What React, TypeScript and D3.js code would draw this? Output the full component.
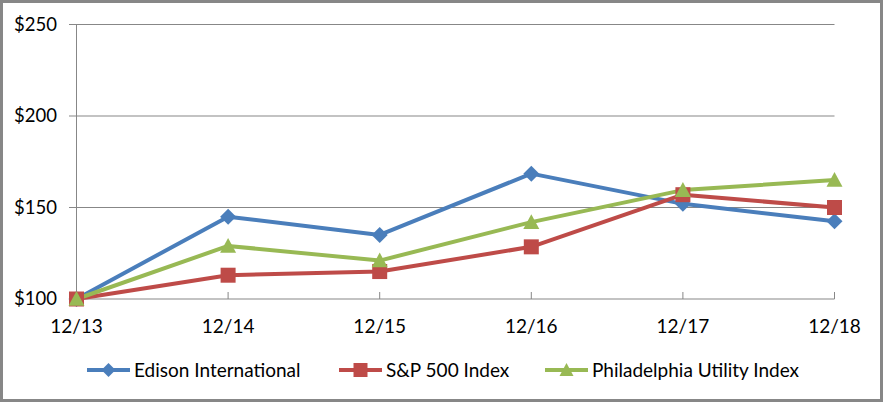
import React, { useEffect, useRef } from 'react';
import * as d3 from 'd3';

const periods = ['12/13', '12/14', '12/15', '12/16', '12/17', '12/18'];
const yTicks = [100, 150, 200, 250];

const edison = [100, 145, 135, 168.5, 152, 142.5];
const sp500 = [100, 113, 115, 128.5, 157, 150];
const phlUtility = [100, 129, 121, 142, 159.5, 165];

const seriesNames = ['Edison International', 'S&P 500 Index', 'Philadelphia Utility Index'];
const seriesColors = ['#4A7EBB', '#BE4B48', '#98B954'];
const seriesMarkers = ['diamond', 'square', 'triangle'];

const W = 883;
const H = 402;

const markerPath = (kind: string, s: number) => {
  const p = d3.path();
  if (kind === 'diamond') {
    p.moveTo(0, -s);
    p.lineTo(s, 0);
    p.lineTo(0, s);
    p.lineTo(-s, 0);
  } else if (kind === 'square') {
    p.rect(-s, -s, s * 2, s * 2);
  } else {
    p.moveTo(0, -s);
    p.lineTo(s, s * 0.85);
    p.lineTo(-s, s * 0.85);
  }
  p.closePath();
  return p.toString();
};

const App: React.FC = () => {
  const svgRef = useRef<SVGSVGElement>(null);

  useEffect(() => {
    document.body.style.margin = '0';
    const svg = d3.select(svgRef.current);
    if (!svgRef.current) return;
    svg.selectAll('*').remove();

    const font = 'Lato, Calibri, sans-serif';
    const x = d3.scalePoint<string>().domain(periods).range([76.5, 834.5]);
    const y = d3.scaleLinear().domain([100, 250]).range([299, 24.5]);

    svg.append('rect')
      .attr('x', 1.5).attr('y', 1.5)
      .attr('width', W - 3).attr('height', H - 3)
      .attr('fill', '#fff').attr('stroke', '#878787').attr('stroke-width', 3);

    // gridlines + y labels
    yTicks.forEach((t) => {
      svg.append('line')
        .attr('x1', 69).attr('x2', 834.5)
        .attr('y1', y(t)).attr('y2', y(t))
        .attr('stroke', '#878787').attr('stroke-width', 1);
      svg.append('text')
        .attr('x', 57).attr('y', y(t))
        .attr('dy', '0.35em')
        .attr('text-anchor', 'end')
        .attr('font-family', font).attr('font-size', 18.5)
        .attr('fill', '#000')
        .text(`$${t}`);
    });

    // y axis line
    svg.append('line')
      .attr('x1', 76.5).attr('x2', 76.5)
      .attr('y1', y(250)).attr('y2', y(100))
      .attr('stroke', '#878787');

    // x ticks (inside) + labels
    periods.forEach((p) => {
      svg.append('line')
        .attr('x1', x(p)!).attr('x2', x(p)!)
        .attr('y1', y(100) - 7).attr('y2', y(100))
        .attr('stroke', '#878787');
      svg.append('text')
        .attr('x', x(p)!).attr('y', 326)
        .attr('dy', '0.35em')
        .attr('text-anchor', 'middle')
        .attr('font-family', font).attr('font-size', 19)
        .attr('fill', '#000')
        .text(p);
    });

    const all = [edison, sp500, phlUtility];
    const line = d3.line<number>().x((_, i) => x(periods[i])!).y((d) => y(d));

    all.forEach((vals, si) => {
      svg.append('path')
        .attr('d', line(vals))
        .attr('fill', 'none')
        .attr('stroke', seriesColors[si])
        .attr('stroke-width', 4)
        .attr('stroke-linejoin', 'round');
    });

    all.forEach((vals, si) => {
      const size = seriesMarkers[si] === 'square' ? 7.5 : 8;
      vals.forEach((v, i) => {
        svg.append('path')
          .attr('d', markerPath(seriesMarkers[si], size))
          .attr('transform', `translate(${x(periods[i])},${y(v)})`)
          .attr('fill', seriesColors[si]);
      });
    });

    // legend
    const legendX = [87, 339, 545];
    const legendY = 370;
    seriesNames.forEach((name, si) => {
      const lx = legendX[si];
      svg.append('line')
        .attr('x1', lx).attr('x2', lx + 43)
        .attr('y1', legendY).attr('y2', legendY)
        .attr('stroke', seriesColors[si]).attr('stroke-width', 4);
      svg.append('path')
        .attr('d', markerPath(seriesMarkers[si], 7))
        .attr('transform', `translate(${lx + 21.5},${legendY})`)
        .attr('fill', seriesColors[si]);
      svg.append('text')
        .attr('x', lx + 47).attr('y', legendY)
        .attr('dy', '0.35em')
        .attr('font-family', font).attr('font-size', 19)
        .attr('fill', '#000')
        .text(name);
    });
  }, []);

  return <svg ref={svgRef} width={W} height={H} style={{ display: 'block' }} />;
};

export default App;
